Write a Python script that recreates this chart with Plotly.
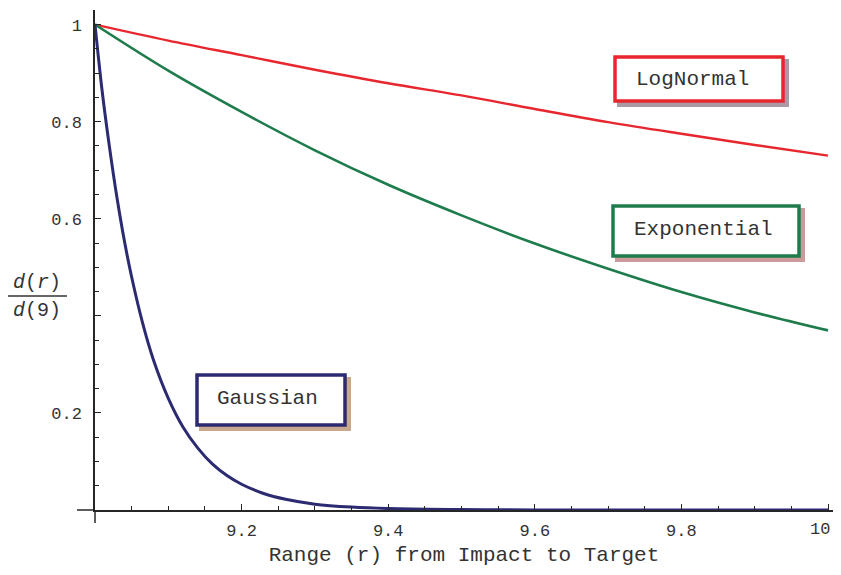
import plotly.graph_objects as go

# ---- data ----
ln_x = [9.0, 9.1, 9.2, 9.3, 9.4, 9.5, 9.6, 9.7, 9.8, 9.9, 10.0]
ln_y = [1.0, 0.967, 0.937, 0.907, 0.879, 0.854, 0.826, 0.799, 0.775, 0.752, 0.730]

ex_x = [9.0, 9.1, 9.2, 9.3, 9.4, 9.5, 9.6, 9.7, 9.8, 9.9, 10.0]
ex_y = [1.0, 0.905, 0.82, 0.741, 0.67, 0.607, 0.549, 0.497, 0.449, 0.407, 0.370]

ga_x = [9.0, 9.01, 9.02, 9.03, 9.04, 9.05, 9.065, 9.08, 9.10, 9.12, 9.14, 9.16,
        9.18, 9.20, 9.23, 9.26, 9.30, 9.35, 9.40, 9.50, 9.60, 9.80, 10.0]
ga_y = [1.0, 0.86, 0.745, 0.643, 0.555, 0.48, 0.385, 0.308, 0.23, 0.171, 0.128, 0.095,
        0.071, 0.053, 0.034, 0.022, 0.012, 0.006, 0.003, 0.001, 0.0, 0.0, 0.0]

x_tickvals = [9.2, 9.4, 9.6, 9.8, 10.0]
x_ticktext = ["9.2", "9.4", "9.6", "9.8", "10"]
y_tickvals = [0.2, 0.4, 0.6, 0.8, 1.0]
y_ticktext = ["0.2", "", "0.6", "0.8", "1"]

RED = "#e8262e"
GREEN = "#1e7c4c"
NAVY = "#2c2a70"
TXT = "#333333"
AX = "#262626"
MONO = "Liberation Mono, Courier New, monospace"

OFF = 8                      # page body margin
W, H = 841 - 2 * OFF, 575 - 2 * OFF
L, R, T = 87, 0, 2
PW, PH = W - L - R, 500
B = H - T - PH
XSCALE = 733.0               # pixels per x unit in the reference


def px(x):
    return (x - OFF - L) / PW


def py(y):
    return (H - B - (y - OFF)) / PH


fig = go.Figure()
fig.add_trace(go.Scatter(x=ln_x, y=ln_y, mode="lines", line=dict(color=RED, width=2.4, shape="spline"),
                         showlegend=False))
fig.add_trace(go.Scatter(x=ex_x, y=ex_y, mode="lines", line=dict(color=GREEN, width=2.6, shape="spline"),
                         showlegend=False))
fig.add_trace(go.Scatter(x=ga_x, y=ga_y, mode="lines", line=dict(color=NAVY, width=3.0, shape="spline"),
                         showlegend=False))

shapes = []
# axis extensions
shapes.append(dict(type="line", xref="paper", yref="paper", x0=px(77), x1=0, y0=0, y1=0,
                   line=dict(color=AX, width=1.5)))
shapes.append(dict(type="line", xref="paper", yref="paper", x0=0, x1=0, y0=py(523), y1=0,
                   line=dict(color=AX, width=1.5)))
# fraction bar
shapes.append(dict(type="line", xref="paper", yref="paper", x0=px(8), x1=px(67), y0=py(296), y1=py(296),
                   line=dict(color=TXT, width=1.4)))

boxes = [
    ("LogNormal", 613, 55, 785, 103, RED, "#aa9aa6", 692, 79),
    ("Exponential", 611, 204, 801, 258, GREEN, "#cc9a9a", 703, 230),
    ("Gaussian", 195, 373, 347, 427, NAVY, "#c9a98e", 267, 398),
]
annotations = []
for text, x0, y0, x1, y1, col, shadow, tx, ty in boxes:
    shapes.append(dict(type="rect", xref="paper", yref="paper", x0=px(x0 + 4), x1=px(x1 + 4),
                       y0=py(y0 + 4), y1=py(y1 + 4), line=dict(width=0), fillcolor=shadow, layer="above"))
    shapes.append(dict(type="rect", xref="paper", yref="paper", x0=px(x0 + 2), x1=px(x1 - 2),
                       y0=py(y0 + 2), y1=py(y1 - 2), line=dict(color=col, width=3.5),
                       fillcolor="white", layer="above"))
    annotations.append(dict(text=text, xref="paper", yref="paper", x=px(tx), y=py(ty),
                            showarrow=False, xanchor="center", yanchor="middle",
                            font=dict(family=MONO, size=21, color=TXT)))

annotations.append(dict(text="<i>d</i>(<i>r</i>)", xref="paper", yref="paper", x=px(37), y=py(296),
                        yanchor="bottom", xanchor="center", showarrow=False, yshift=0,
                        font=dict(family=MONO, size=20, color=TXT)))
annotations.append(dict(text="<i>d</i>(9)", xref="paper", yref="paper", x=px(37), y=py(296),
                        yanchor="top", xanchor="center", showarrow=False, yshift=-1,
                        font=dict(family=MONO, size=20, color=TXT)))
# last x tick label kept inside the visible page edge
annotations.append(dict(text=x_ticktext[-1], xref="paper", yref="paper", x=1.0, y=py(529),
                        xanchor="right", yanchor="middle", showarrow=False, xshift=-1,
                        font=dict(family=MONO, size=17, color=TXT)))
x_ticktext_axis = x_ticktext[:-1] + [""]

fig.update_layout(
    width=W, height=H,
    margin=dict(l=L, r=R, t=T, b=B, autoexpand=False),
    paper_bgcolor="white", plot_bgcolor="white",
    shapes=shapes, annotations=annotations,
    xaxis=dict(range=[9.0, 9.0 + PW / XSCALE], showgrid=False, zeroline=False, showline=True,
               linecolor=AX, linewidth=1.5, ticks="inside", ticklen=6, tickcolor=AX,
               tickvals=x_tickvals, ticktext=x_ticktext_axis, automargin=False,
               minor=dict(dtick=0.05, tick0=9.0, ticks="inside", ticklen=4, tickcolor=AX),
               tickfont=dict(family=MONO, size=17, color=TXT), ticklabelstandoff=4,
               title=dict(text="Range (r) from Impact to Target", standoff=6,
                          font=dict(family=MONO, size=21, color=TXT))),
    yaxis=dict(range=[0.0, 1.03], showgrid=False, zeroline=False, showline=True,
               linecolor=AX, linewidth=1.5, ticks="inside", ticklen=6, tickcolor=AX,
               tickvals=y_tickvals, ticktext=y_ticktext, automargin=False,
               minor=dict(dtick=0.05, tick0=0.0, ticks="inside", ticklen=4, tickcolor=AX),
               tickfont=dict(family=MONO, size=17, color=TXT), ticklabelstandoff=8),
)

fig.write_html("out.html")
